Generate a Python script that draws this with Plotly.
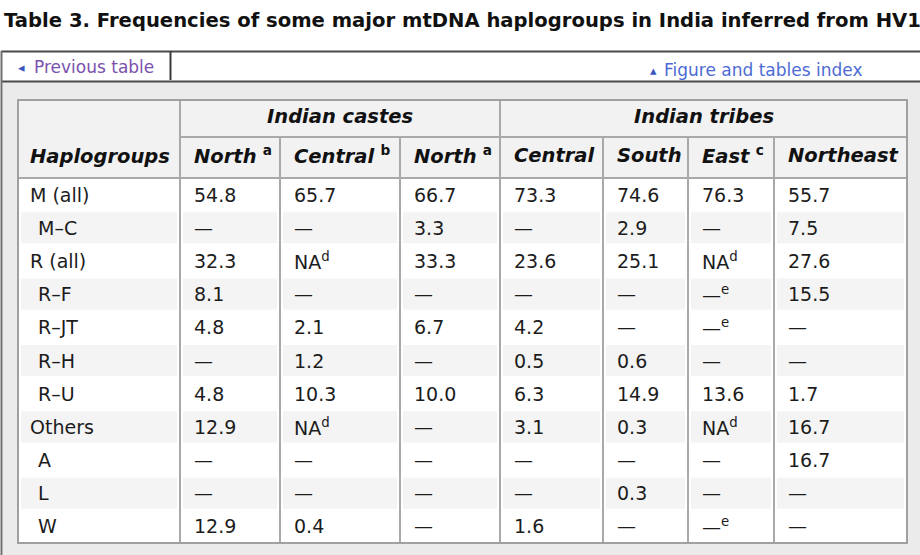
import plotly.graph_objects as go

# ---------------- data ----------------
title_text = "Table 3. Frequencies of some major mtDNA haplogroups in India inferred from HV1"
nav_prev = "Previous table"
nav_index = "Figure and tables index"

haplogroups = ["M (all)", "M–C", "R (all)", "R–F", "R–JT", "R–H", "R–U", "Others", "A", "L", "W"]
top_level_groups = ["M (all)", "R (all)", "Others"]

column_groups = ["Indian castes", "Indian tribes"]
column_group_spans = [3, 4]
regions = ["North", "Central", "North", "Central", "South", "East", "Northeast"]
region_notes = ["a", "b", "a", "", "", "c", ""]

NA_d = ("NA", "d")
DASH_e = ("—", "e")
castes_north_a = [54.8, None, 32.3, 8.1, 4.8, None, 4.8, 12.9, None, None, 12.9]
castes_central_b = [65.7, None, NA_d, None, 2.1, 1.2, 10.3, NA_d, None, None, 0.4]
castes_north_a2 = [66.7, 3.3, 33.3, None, 6.7, None, 10.0, None, None, None, None]
tribes_central = [73.3, None, 23.6, None, 4.2, 0.5, 6.3, 3.1, None, None, 1.6]
tribes_south = [74.6, 2.9, 25.1, None, None, 0.6, 14.9, 0.3, None, 0.3, None]
tribes_east_c = [76.3, None, NA_d, DASH_e, DASH_e, None, 13.6, NA_d, None, None, DASH_e]
tribes_northeast = [55.7, 7.5, 27.6, 15.5, None, None, 1.7, 16.7, 16.7, None, None]
columns = [castes_north_a, castes_central_b, castes_north_a2,
           tribes_central, tribes_south, tribes_east_c, tribes_northeast]

# ---------------- layout constants ----------------
W, H = 920, 555
col_edges = [18, 180, 280, 400, 500, 603, 688, 774, 907]
table_top, hdr1_bot, hdr2_bot, table_bot = 100, 137, 178, 543
row_h = (table_bot - hdr2_bot) / len(haplogroups)
pad = 12
FONT = "DejaVu Sans"
TXT = "#1c1c1c"
GRID = "#a9a9a9"
FS = 19
HFS = 19.5


def fmt(v):
    if v is None:
        return "—"
    if isinstance(v, tuple):
        return f"{v[0]}<sup>{v[1]}</sup>"
    return f"{v:.1f}"


shapes = []
ann = []


def rect(x0, y0, x1, y1, fill, line_color=None, lw=0):
    shapes.append(dict(type="rect", xref="x", yref="y", x0=x0, y0=y0, x1=x1, y1=y1,
                       fillcolor=fill, line=dict(color=line_color or fill, width=lw),
                       layer="below"))


def line(x0, y0, x1, y1, color, lw):
    shapes.append(dict(type="line", xref="x", yref="y", x0=x0, y0=y0, x1=x1, y1=y1,
                       line=dict(color=color, width=lw), layer="below"))


def text(x, y, s, size=FS, color=TXT, family=FONT, xanchor="left"):
    ann.append(dict(x=x, y=y, xref="x", yref="y", text=s, showarrow=False,
                    xanchor=xanchor, yanchor="middle",
                    font=dict(family=family, size=size, color=color)))


# title
text(2, 20, f"<b>{title_text}</b>", size=19.6, color="#111111")

# container background
rect(3, 82, W, H, "#ebebeb")
# nav bar
rect(1, 51, W, 82, "#ffffff")
line(1, 51.5, W, 51.5, "#4a4a4a", 2)
line(1, 81.5, W, 81.5, "#4a4a4a", 2)
line(170.5, 51, 170.5, 80, "#3a3a3a", 2)
line(1.5, 51, 1.5, H, "#6e6e6e", 2)
text(16, 67, "◂", size=13, color="#3b55c0")
text(32, 67, nav_prev, size=17, color="#7b51ad")
text(648, 70, "▴", size=13, color="#3b55c0")
text(662, 70, nav_index, size=17, color="#4d6bd4")

# table background
rect(col_edges[0], table_top, col_edges[-1], table_bot, "#ffffff")
rect(col_edges[0], table_top, col_edges[-1], hdr2_bot, "#f2f2f2")

# alternating body rows
for i, _ in enumerate(haplogroups):
    if i % 2 == 1:
        y0 = hdr2_bot + i * row_h
        for c in range(len(col_edges) - 1):
            rect(col_edges[c] + 3, y0 + 1, col_edges[c + 1] - 3, y0 + row_h - 1, "#f4f4f4")

# grid lines
line(col_edges[1], hdr1_bot, col_edges[-1], hdr1_bot, GRID, 2)
line(col_edges[0], hdr2_bot, col_edges[-1], hdr2_bot, GRID, 2)
# group boundaries run through header row 1
group_edges = [col_edges[1]]
k = 1
for span in column_group_spans:
    k += span
    group_edges.append(col_edges[k])
for x in col_edges[1:-1]:
    y_start = table_top if x in group_edges else hdr1_bot
    line(x, y_start, x, table_bot, GRID, 2)
# outer border
shapes.append(dict(type="rect", xref="x", yref="y", x0=col_edges[0], y0=table_top,
                   x1=col_edges[-1], y1=table_bot, line=dict(color="#a0a0a0", width=2),
                   fillcolor="rgba(0,0,0,0)", layer="below"))

# header texts
text(col_edges[0] + 10, 156, "<b><i>Haplogroups</i></b>", size=HFS, color="#111111")
start = 1
for g, span in zip(column_groups, column_group_spans):
    xc = (col_edges[start] + col_edges[start + span]) / 2
    text(xc, 116, f"<b><i>{g}</i></b>", size=HFS, color="#111111", xanchor="center")
    start += span
for c, (r, n) in enumerate(zip(regions, region_notes)):
    sep = " " if r == "North" else " "
    s = f"<b><i>{r}</i></b>" + (f"{sep}<b><sup>{n}</sup></b>" if n else "")
    text(col_edges[c + 1] + pad, 155, s, size=HFS, color="#111111")

# body
for i, hg in enumerate(haplogroups):
    yc = hdr2_bot + (i + 0.5) * row_h
    indent = 10 if hg in top_level_groups else 18
    text(col_edges[0] + indent, yc, hg)
    for c, col in enumerate(columns):
        text(col_edges[c + 1] + pad, yc, fmt(col[i]))

fig = go.Figure()
fig.update_layout(
    width=W, height=H, margin=dict(l=0, r=0, t=0, b=0),
    paper_bgcolor="#ffffff", plot_bgcolor="#ffffff",
    xaxis=dict(range=[0, W], visible=False, fixedrange=True),
    yaxis=dict(range=[H, 0], visible=False, fixedrange=True),
    shapes=shapes, annotations=ann, showlegend=False,
)
fig.write_html("out.html", config={"displayModeBar": False},
               post_script="document.body.style.margin='0';document.body.style.overflow='hidden';")
